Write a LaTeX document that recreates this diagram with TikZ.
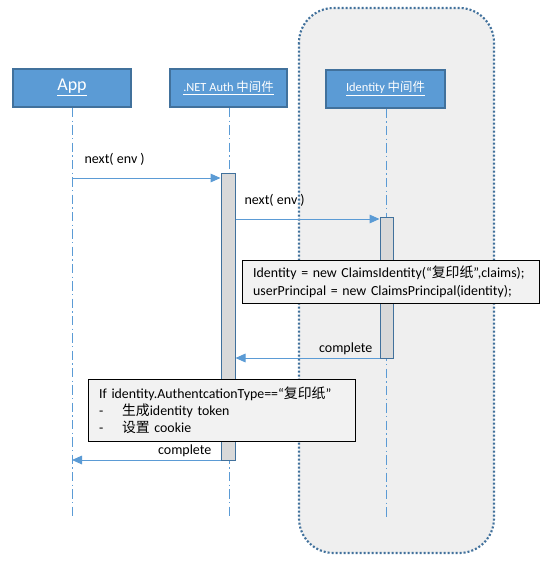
\documentclass[tikz,border=0pt]{standalone}
\usepackage{fontspec}
\setmainfont{Carlito}
\newfontfamily\cjk{Noto Sans CJK SC}
\usetikzlibrary{arrows.meta}
\definecolor{hdrfill}{HTML}{5B9BD5}
\definecolor{hdrline}{HTML}{41719C}
\definecolor{lifeblue}{HTML}{5B9BD5}
\definecolor{grpfill}{HTML}{EFEFEF}
\definecolor{barfill}{HTML}{D9D9D9}
\definecolor{notefill}{HTML}{F2F2F2}
\tikzset{
  hdr/.style={draw=hdrline, line width=1.5pt, fill=hdrfill, text=white, minimum height=28.5pt, inner sep=0pt, font=\fontsize{9.3}{11}\selectfont},
  life/.style={draw=lifeblue, line width=0.75pt, dash pattern=on 7pt off 2.5pt on 1pt off 2.5pt},
  actbar/.style={draw=hdrline, line width=0.75pt, fill=barfill, inner sep=0pt},
  msg/.style={draw=lifeblue, line width=0.75pt, -{Triangle[length=7.5pt,width=6.5pt]}},
  lbl/.style={font=\fontsize{10.5}{12}\selectfont, inner sep=1pt},
  note/.style={draw=black, line width=0.75pt, fill=notefill, align=left, inner xsep=8pt, inner ysep=0pt, font=\fontsize{10.4}{13.5}\selectfont},
}
\begin{document}
\begin{tikzpicture}[x=0.75pt,y=-0.75pt]
\useasboundingbox (0,0) rectangle (551,571);
% group
\draw[draw=hdrline, fill=grpfill, line width=1.6pt, dash pattern=on 1.5pt off 1.5pt, rounded corners=26pt] (299,8) rectangle (494,553);
% headers
\node[hdr, minimum width=88.5pt, font=\fontsize{13.5}{15}\selectfont] (app) at (72,88) {\raisebox{-1.5pt}{\underline{App}}};
\node[hdr, minimum width=87.75pt] (auth) at (228.5,88) {\underline{.NET Auth {\cjk 中间件}}};
\node[hdr, minimum width=89.25pt] (idm) at (385.5,88.5) {\underline{Identity {\cjk 中间件}}};
% lifeline ends
\coordinate (append) at (72,518);
\coordinate (authend) at (229,518);
\coordinate (idmend) at (386,518);
\draw[life] (app.south -| append) -- (append);
\draw[life] (auth.south -| authend) -- (authend);
\draw[life] (idm.south -| idmend) -- (idmend);
% activation bars
\node[actbar, minimum width=10.5pt, minimum height=215.25pt] (bar1) at (228,316.5) {};
\node[actbar, minimum width=9.75pt, minimum height=105.75pt] (bar2) at (386.5,287.5) {};
% messages
\coordinate (m1) at (0,178);
\draw[msg] (append |- m1) -- (bar1.west |- m1);
\node[lbl, anchor=base west] (l1) at (83,163) {next( env )};
\coordinate (m2) at (0,219);
\draw[msg] (bar1.east |- m2) -- (bar2.west |- m2);
\node[lbl, anchor=base west] (l2) at (243,204) {next( env )};
\node[note, text width=206.75pt, minimum height=32.25pt, anchor=north west] (n1) at (242,260) {Identity = new ClaimsIdentity(“{\cjk 复印纸}”,claims);\\userPrincipal = new ClaimsPrincipal(identity);};
\coordinate (m3) at (0,358);
\draw[msg] (bar2.west |- m3) -- (bar1.east |- m3);
\node[lbl, anchor=base east] (l3) at (374,352) {complete};
\node[note, text width=184.25pt, minimum height=46.5pt, anchor=north west, font=\fontsize{10.4}{12.8}\selectfont] (n2) at (88,379) {If identity.AuthentcationType==“{\cjk 复印纸}”\\-\hspace{14pt}{\cjk 生成}identity token\\-\hspace{14pt}{\cjk 设置} cookie};
\coordinate (m4) at (0,460);
\draw[msg] (bar1.west |- m4) -- (append |- m4);
\node[lbl, anchor=base east] (l4) at (213,454) {complete};
\end{tikzpicture}
\end{document}
